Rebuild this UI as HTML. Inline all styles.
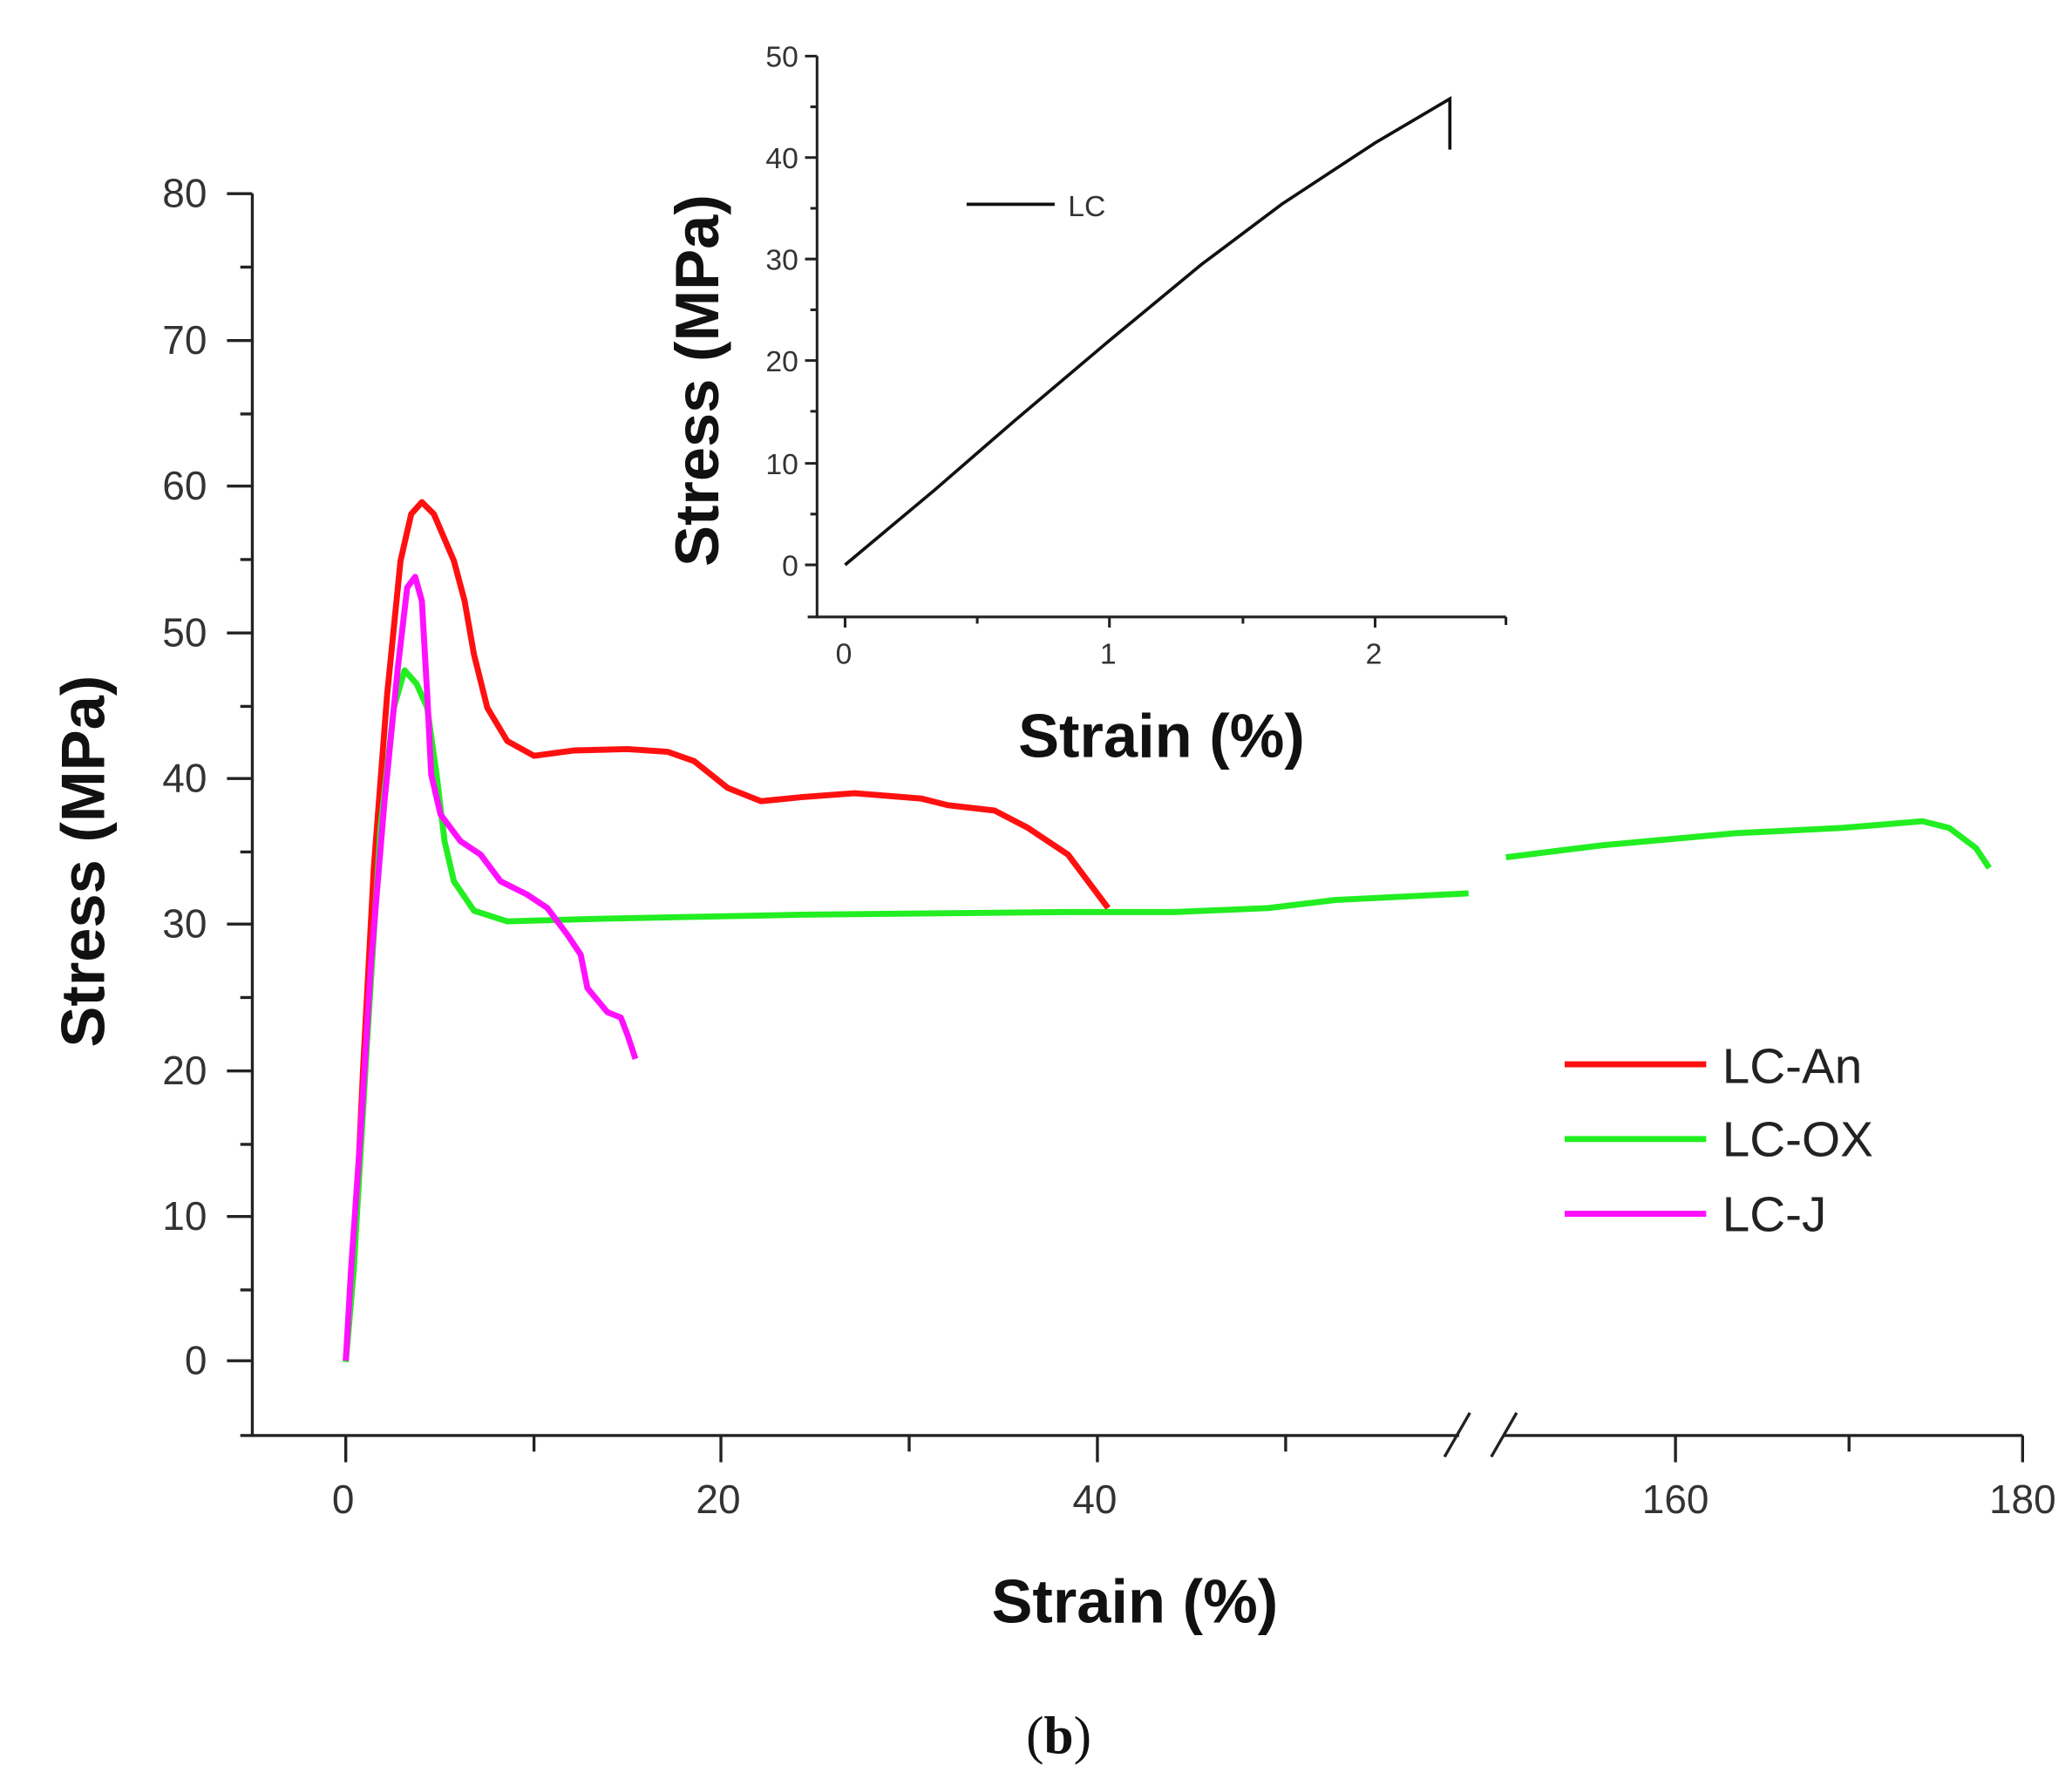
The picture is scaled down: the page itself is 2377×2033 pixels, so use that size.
<!DOCTYPE html>
<html><head><meta charset="utf-8"><style>
html,body{margin:0;padding:0;background:#fff}
svg{display:block}
</style></head><body>
<svg width="2377" height="2033" viewBox="0 0 1552 1327" preserveAspectRatio="none" xmlns="http://www.w3.org/2000/svg" font-family="Liberation Sans, sans-serif">
<rect width="1552" height="1327" fill="#fff"/>
<!-- main axes -->
<g stroke="#222" stroke-width="2.2" fill="none">
<line x1="189" y1="145" x2="189" y2="1076"/>
<line x1="180" y1="1075" x2="1093" y2="1075"/>
<line x1="1126" y1="1075" x2="1515" y2="1075"/>
<line x1="1082" y1="1091" x2="1101" y2="1058"/>
<line x1="1117" y1="1091" x2="1136" y2="1058"/>
<!-- y major ticks -->
<path d="M170 145H189M170 255H189M170 364H189M170 474H189M170 583H189M170 692H189M170 802H189M170 911H189M170 1019H189"/>
<path d="M180 200H189M180 310H189M180 419H189M180 529H189M180 638H189M180 747H189M180 857H189M180 966H189"/>
<!-- x ticks -->
<path d="M259 1075V1095M540 1075V1095M822 1075V1095M1255 1075V1095M1515 1075V1095"/>
<path d="M400 1075V1087M681 1075V1087M963 1075V1087M1385 1075V1087"/>
</g>
<g font-size="30" fill="#333" text-anchor="end">
<text x="155" y="155">80</text><text x="155" y="265">70</text><text x="155" y="374">60</text>
<text x="155" y="484">50</text><text x="155" y="593">40</text><text x="155" y="702">30</text>
<text x="155" y="812">20</text><text x="155" y="921">10</text><text x="155" y="1029">0</text>
</g>
<g font-size="30" fill="#333" text-anchor="middle">
<text x="257" y="1133">0</text><text x="538" y="1133">20</text><text x="820" y="1133">40</text>
<text x="1255" y="1133">160</text><text x="1515" y="1133">180</text>
</g>
<text x="850" y="1215" font-size="46" font-weight="bold" text-anchor="middle" fill="#111">Strain (%)</text>
<text transform="translate(78,645) rotate(-90)" font-size="46" font-weight="bold" text-anchor="middle" fill="#111">Stress (MPa)</text>
<!-- curves -->
<g fill="none" stroke-width="4.5" stroke-linejoin="round">
<polyline stroke="#ff1010" points="259,1019 265,950 272,800 280,650 290,520 300,420 308,385 316,376 325,385 340,420 348,450 355,490 365,530 380,555 400,566 430,562 470,561 500,563 520,570 545,590 570,600 600,597 640,594 690,598 710,603 745,607 770,620 800,640 815,660 830,680"/>
<polyline stroke="#22ee22" points="259,1020 265,950 275,780 285,620 295,530 303,502 312,512 320,530 327,580 333,630 340,660 355,682 380,690 450,688 600,685 800,683 880,683 950,680 1000,674 1100,669"/>
<polyline stroke="#22ee22" points="1128,642 1200,633 1300,624 1380,620 1440,615 1460,620 1480,635 1490,650"/>
<polyline stroke="#ff10ff" points="259,1019 263,950 270,850 278,720 288,600 298,500 305,440 311,432 316,450 320,520 323,580 330,610 345,630 360,640 375,660 395,670 410,680 425,700 435,715 440,740 455,758 465,762 470,775 476,793"/>
</g>
<!-- legend -->
<g stroke-width="4.5">
<line x1="1172" y1="797" x2="1278" y2="797" stroke="#ff1010"/>
<line x1="1172" y1="853" x2="1278" y2="853" stroke="#22ee22"/>
<line x1="1172" y1="909" x2="1278" y2="909" stroke="#ff10ff"/>
</g>
<g font-size="37" fill="#222">
<text x="1290" y="811">LC-An</text><text x="1290" y="866">LC-OX</text><text x="1290" y="922">LC-J</text>
</g>
<!-- inset -->
<g stroke="#222" stroke-width="2" fill="none">
<line x1="612" y1="42" x2="612" y2="463"/>
<line x1="605" y1="462" x2="1128" y2="462"/>
<path d="M603 42H612M603 118H612M603 194H612M603 270H612M603 347H612M603 423H612"/>
<path d="M607 80H612M607 156H612M607 232H612M607 308H612M607 385H612"/>
<path d="M633 462V470M831 462V470M1030 462V470M732 462V467M931 462V467M1128 462V468"/>
<polyline stroke="#111" stroke-width="2.4" points="633,423 700,367 760,315 831,255 900,198 960,153 1030,107 1086,74 1086,112"/>
<line x1="724" y1="153" x2="790" y2="153" stroke="#111" stroke-width="2.4"/>
</g>
<g font-size="22" fill="#333" text-anchor="end">
<text x="598" y="50">50</text><text x="598" y="126">40</text><text x="598" y="202">30</text>
<text x="598" y="278">20</text><text x="598" y="355">10</text><text x="598" y="431">0</text>
</g>
<g font-size="22" fill="#333" text-anchor="middle">
<text x="632" y="497">0</text><text x="830" y="497">1</text><text x="1029" y="497">2</text>
</g>
<text x="800" y="162" font-size="22" fill="#333">LC</text>
<text x="870" y="567" font-size="46" font-weight="bold" text-anchor="middle" fill="#111">Strain (%)</text>
<text transform="translate(538,285) rotate(-90)" font-size="46" font-weight="bold" text-anchor="middle" fill="#111">Stress (MPa)</text>
<text x="793" y="1313" font-size="40" text-anchor="middle" font-family="Liberation Serif, serif" fill="#111">(<tspan font-weight="bold">b</tspan>)</text>
</svg>
</body></html>
